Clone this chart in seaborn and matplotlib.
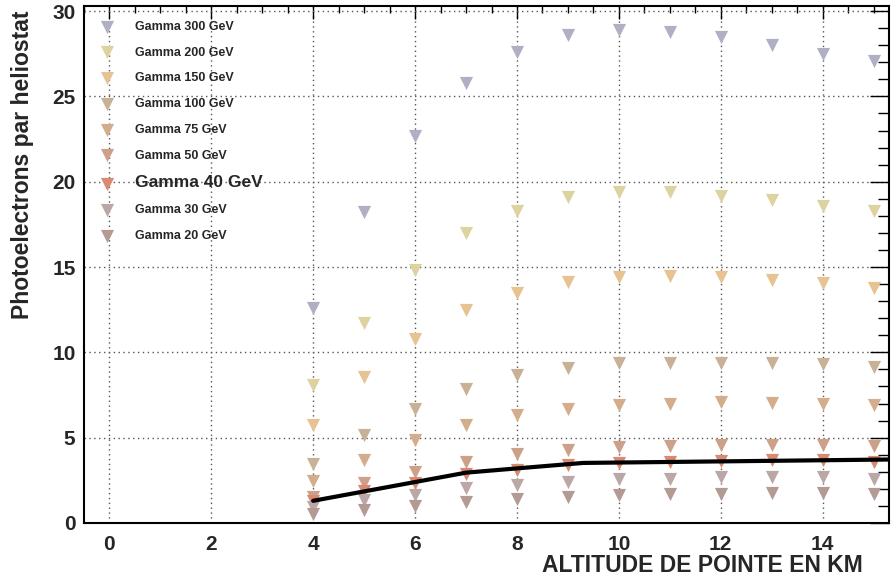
import matplotlib
matplotlib.use("Agg")
import matplotlib.pyplot as plt
import seaborn as sns
import numpy as np
from matplotlib.ticker import MultipleLocator

# ---- data ----
altitudes = [4, 5, 6, 7, 8, 9, 10, 11, 12, 13, 14, 15]
g300 = [12.6, 18.2, 22.7, 25.8, 27.6, 28.6, 28.9, 28.8, 28.5, 28.0, 27.5, 27.1]
g200 = [8.1, 11.7, 14.8, 17.0, 18.3, 19.1, 19.4, 19.4, 19.15, 18.9, 18.6, 18.3]
g150 = [5.75, 8.55, 10.8, 12.5, 13.5, 14.1, 14.4, 14.5, 14.4, 14.25, 14.05, 13.8]
g100 = [3.45, 5.15, 6.7, 7.85, 8.7, 9.1, 9.35, 9.4, 9.4, 9.35, 9.3, 9.15]
g75 = [2.45, 3.7, 4.85, 5.75, 6.3, 6.7, 6.9, 7.0, 7.1, 7.05, 7.0, 6.9]
g50 = [1.5, 2.35, 3.0, 3.6, 4.05, 4.3, 4.45, 4.5, 4.55, 4.55, 4.55, 4.5]
g40 = [1.3, 1.85, 2.35, 2.9, 3.1, 3.4, 3.5, 3.6, 3.65, 3.7, 3.7, 3.6]
g30 = [0.95, 1.35, 1.65, 2.05, 2.2, 2.4, 2.6, 2.6, 2.7, 2.7, 2.7, 2.6]
g20 = [0.55, 0.75, 1.0, 1.25, 1.4, 1.5, 1.65, 1.7, 1.7, 1.75, 1.75, 1.7]

series_labels = ["Gamma 300 GeV", "Gamma 200 GeV", "Gamma 150 GeV", "Gamma 100 GeV",
                 "Gamma 75 GeV", "Gamma 50 GeV", "Gamma 40 GeV", "Gamma 30 GeV",
                 "Gamma 20 GeV"]
series_values = [g300, g200, g150, g100, g75, g50, g40, g30, g20]
series_colors = ["#b0b0c4", "#ddd3a0", "#e6c391", "#c8b196", "#d4ad8c",
                 "#cda08a", "#d98a70", "#bba7a6", "#b39a93"]

curve_x = [4, 5, 6, 7, 8, 9.3, 15.3]
curve_y = [1.3, 1.85, 2.4, 2.95, 3.2, 3.52, 3.72]

xlabel = "ALTITUDE DE POINTE EN KM"
ylabel = "Photoelectrons par heliostat"

# ---- style ----
sns.set_theme(style="white")
plt.rcParams["font.family"] = ["Liberation Sans", "DejaVu Sans"]
plt.rcParams["font.weight"] = "bold"

fig = plt.figure(figsize=(8.92, 5.80), dpi=100)
ax = fig.add_axes([0.094, 0.0983, 0.9026, 0.8914])

for lab, vals, col in zip(series_labels, series_values, series_colors):
    sns.scatterplot(x=altitudes, y=vals, ax=ax, marker="v", s=90, color=col,
                    linewidth=0, label=lab, zorder=3)

sns.lineplot(x=curve_x, y=curve_y, ax=ax, color="black", linewidth=3,
             zorder=4, legend=False)

ax.set_xlim(-0.5, 15.3)
ax.set_ylim(0, 30.3)
ax.xaxis.set_major_locator(MultipleLocator(2))
ax.xaxis.set_minor_locator(MultipleLocator(0.5))
ax.yaxis.set_major_locator(MultipleLocator(5))
ax.yaxis.set_minor_locator(MultipleLocator(1))

ax.grid(True, which="major", color="#555555", linestyle=(0, (1, 2.5)), linewidth=1.0)
ax.set_axisbelow(True)

ax.tick_params(which="both", direction="in", top=True, right=True,
               color="black", width=1.0)
ax.tick_params(axis="x", which="major", length=9, pad=9, labelsize=15)
ax.tick_params(axis="x", which="minor", length=5)
ax.tick_params(axis="y", which="major", length=14, pad=6, labelsize=15)
ax.tick_params(axis="y", which="minor", length=8)
for t in ax.get_xticklabels() + ax.get_yticklabels():
    t.set_fontweight("bold")

for sp in ax.spines.values():
    sp.set_color("black")
    sp.set_linewidth(1.5)

ax.set_xlabel(xlabel, fontsize=16.5, fontweight="bold", ha="right", va="center")
ax.xaxis.set_label_coords(0.968, -0.083)
ax.set_ylabel(ylabel, fontsize=16.5, fontweight="bold", ha="right", va="center")
ax.yaxis.set_label_coords(-0.076, 0.992)

leg = ax.legend(loc="upper left", bbox_to_anchor=(0.021, 0.971), frameon=False,
                borderaxespad=0, borderpad=0, handlelength=1.0, handletextpad=1.7,
                labelspacing=1.1, scatterpoints=1,
                prop={"family": "Liberation Sans", "weight": "bold", "size": 9})
for t in leg.get_texts():
    if t.get_text() == "Gamma 40 GeV":
        t.set_fontsize(12.5)

fig.savefig("out.png", dpi=100)
